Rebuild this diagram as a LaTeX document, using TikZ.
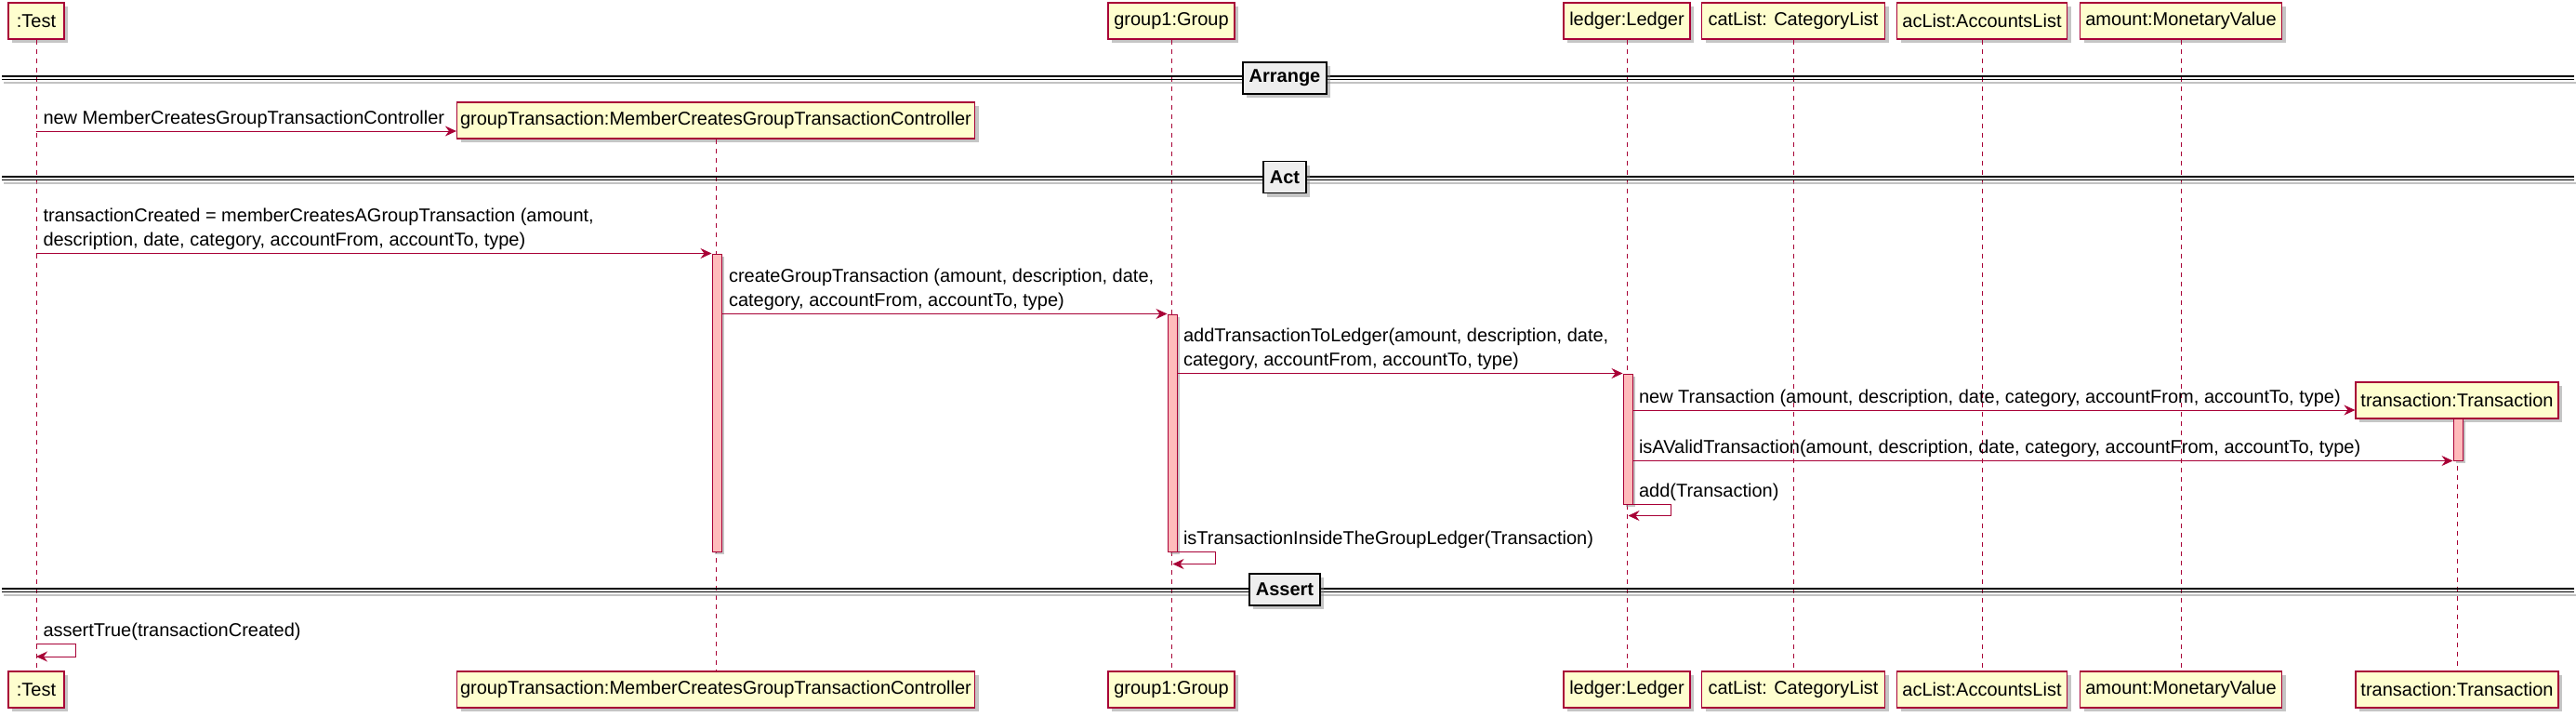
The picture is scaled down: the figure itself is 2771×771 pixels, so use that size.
\documentclass[tikz,border=0pt]{standalone}
\usepackage{fontspec}
\setmainfont{Liberation Sans}
\definecolor{UmlRed}{HTML}{A80036}
\definecolor{UmlYellow}{HTML}{FEFECE}
\definecolor{UmlPink}{HTML}{FFBBBB}
\definecolor{UmlGray}{HTML}{EEEEEE}
\usetikzlibrary{arrows.meta, calc, shadows}
\newcommand{\umlfont}{\fontsize{20}{26}\selectfont}
\tikzset{
	participant/.style={draw=UmlRed, fill=UmlYellow, line width=1.2pt, minimum height=39pt, inner xsep=0pt, font=\umlfont,
		drop shadow={shadow xshift=4pt, shadow yshift=-4pt, fill=black!45, opacity=0.5}},
	lifeline/.style={UmlRed, line width=0.9pt, dash pattern=on 5pt off 5pt},
	actbar/.style={draw=UmlRed, fill=UmlPink, line width=1pt, minimum width=10pt, inner sep=0pt,
		drop shadow={shadow xshift=3pt, shadow yshift=-3pt, fill=black!45, opacity=0.5}},
	msg/.style={UmlRed, line width=1pt, -{Stealth[length=12pt, width=11pt, inset=4pt]}},
	msglabel/.style={anchor=south west, inner sep=0pt, xshift=7pt, yshift=3pt, align=left, font=\umlfont, text=black},
	sepline/.style={black, line width=1.3pt},
	sepbox/.style={draw=black, fill=UmlGray, line width=1.8pt, minimum height=34pt, inner xsep=7pt, font=\umlfont\bfseries,
		drop shadow={shadow xshift=4pt, shadow yshift=-4pt, fill=black!45, opacity=0.5}}
}

\begin{document}
\begin{tikzpicture}[x=1pt, y=-1pt]
	\useasboundingbox (0,0) rectangle (2771,771);
	
	% participants, top and bottom
	\node[participant, minimum width=60pt] (testTop) at (39, 22.5) {:Test};
	\node[participant, minimum width=60pt] (testBot) at (39, 741.5) {:Test};
	\node[participant, minimum width=557pt] (gtTop) at (770, 129.5) {groupTransaction:MemberCreatesGroupTransactionController};
	\node[participant, minimum width=557pt] (gtBot) at (770, 741.5) {groupTransaction:MemberCreatesGroupTransactionController};
	\node[participant, minimum width=136pt] (grpTop) at (1260, 22.5) {group1:Group};
	\node[participant, minimum width=136pt] (grpBot) at (1260, 741.5) {group1:Group};
	\node[participant, minimum width=136pt] (ldgTop) at (1750, 22.5) {ledger:Ledger};
	\node[participant, minimum width=136pt] (ldgBot) at (1750, 741.5) {ledger:Ledger};
	\node[participant, minimum width=197pt] (catTop) at (1929, 22.5) {catList: CategoryList};
	\node[participant, minimum width=197pt] (catBot) at (1929, 741.5) {catList: CategoryList};
	\node[participant, minimum width=183pt] (acTop) at (2132, 22.5) {acList:AccountsList};
	\node[participant, minimum width=183pt] (acBot) at (2132, 741.5) {acList:AccountsList};
	\node[participant, minimum width=217pt] (amtTop) at (2346, 22.5) {amount:MonetaryValue};
	\node[participant, minimum width=217pt] (amtBot) at (2346, 741.5) {amount:MonetaryValue};
	\node[participant, minimum width=218pt] (trTop) at (2643, 430.5) {transaction:Transaction};
	\node[participant, minimum width=218pt] (trBot) at (2643, 741.5) {transaction:Transaction};
	
	% lifelines
	\draw[lifeline] (testTop) -- (testBot);
	\draw[lifeline] (gtTop) -- (gtBot);
	\draw[lifeline] (grpTop) -- (grpBot);
	\draw[lifeline] (ldgTop) -- (ldgBot);
	\draw[lifeline] (catTop) -- (catBot);
	\draw[lifeline] (acTop) -- (acBot);
	\draw[lifeline] (amtTop) -- (amtBot);
	\draw[lifeline] (trTop) -- (trBot);
	
	% separators
	\draw[black!40, line width=2pt, opacity=0.6] (4, 88.5) -- (2771, 88.5);
	\draw[sepline] (2, 82) -- (2769, 82);
	\draw[sepline] (2, 85.5) -- (2769, 85.5);
	\node[sepbox] (arrange) at (1382, 84) {Arrange};
	
	\draw[black!40, line width=2pt, opacity=0.6] (4, 196.5) -- (2771, 196.5);
	\draw[sepline] (2, 190) -- (2769, 190);
	\draw[sepline] (2, 193.5) -- (2769, 193.5);
	\node[sepbox] (act) at (1382, 190.5) {Act};
	
	\draw[black!40, line width=2pt, opacity=0.6] (4, 639.5) -- (2771, 639.5);
	\draw[sepline] (2, 633) -- (2769, 633);
	\draw[sepline] (2, 636.5) -- (2769, 636.5);
	\node[sepbox] (assert) at (1382, 634) {Assert};
	
	% activations
	\node[actbar, minimum height=320pt] (gtBar) at (771, 433) {};
	\node[actbar, minimum height=255pt] (grpBar) at (1261, 465.5) {};
	\node[actbar, minimum height=140pt] (ldgBar) at (1751, 472) {};
	\node[actbar, minimum height=45pt] (trBar) at (2644, 472.5) {};
	
	% messages
	\coordinate (r1) at (0, 141);
	\coordinate (r5) at (0, 441);
	\coordinate (r9) at (0, 692);
	
	\draw[msg] (testTop |- r1) -- (gtTop.west |- r1) node[msglabel, pos=0] {new MemberCreatesGroupTransactionController};
	
	\draw[msg] (testTop |- gtBar.north) -- (gtBar.north west) node[msglabel, pos=0] {transactionCreated = memberCreatesAGroupTransaction (amount,\\description, date, category, accountFrom, accountTo, type)};
	
	\draw[msg] (gtBar.east |- grpBar.north) -- (grpBar.north west) node[msglabel, pos=0] {createGroupTransaction (amount, description, date,\\category, accountFrom, accountTo, type)};
	
	\draw[msg] (grpBar.east |- ldgBar.north) -- (ldgBar.north west) node[msglabel, pos=0, xshift=-1pt] {addTransactionToLedger(amount, description, date,\\category, accountFrom, accountTo, type)};
	
	\draw[msg] (ldgBar.east |- r5) -- (trTop.west |- r5) node[msglabel, pos=0, xshift=-1pt] {new Transaction (amount, description, date, category, accountFrom, accountTo, type)};
	
	\draw[msg] (ldgBar.east |- trBar.south) -- (trBar.south west) node[msglabel, pos=0, xshift=-1pt] {isAValidTransaction(amount, description, date, category, accountFrom, accountTo, type)};
	
	\draw[msg] (ldgBar.south east) -- node[msglabel, pos=0, xshift=-1pt] {add(Transaction)} ++(41,0) -- ++(0,12) -- ++(-46,0);
	
	\draw[msg] (grpBar.south east) -- node[msglabel, pos=0, xshift=-1pt] {isTransactionInsideTheGroupLedger(Transaction)} ++(41,0) -- ++(0,13) -- ++(-46,0);
	
	\draw[msg] (testTop |- r9) -- node[msglabel, pos=0] {assertTrue(transactionCreated)} ++(42,0) -- ++(0,14) -- ++(-42,0);
\end{tikzpicture}
\end{document}
